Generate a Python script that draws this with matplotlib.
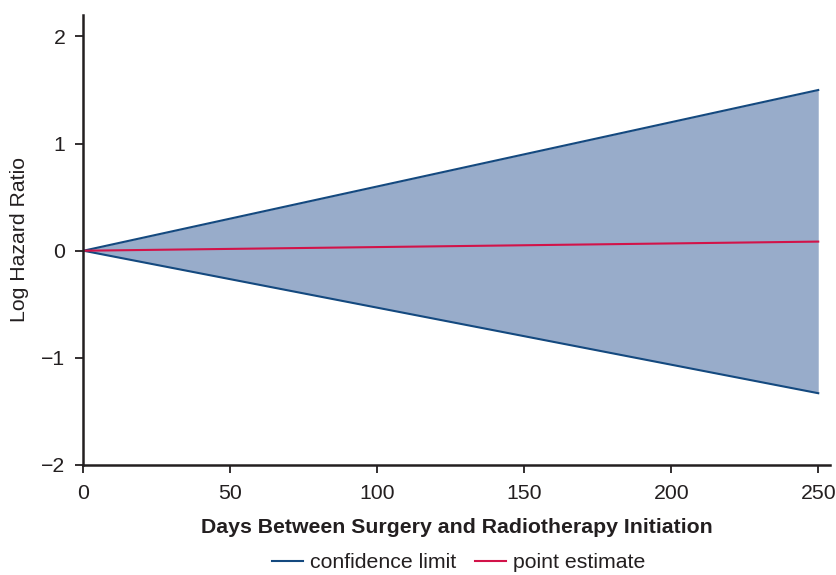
import matplotlib
matplotlib.use("Agg")
import matplotlib.pyplot as plt
from matplotlib.lines import Line2D

plt.rcParams['font.family'] = ['Liberation Sans', 'DejaVu Sans']

days = [0, 250]
upper = [0, 1.50]
lower = [0, -1.33]
estimate = [0, 0.085]

xticks = [0, 50, 100, 150, 200, 250]
yticks = [-2, -1, 0, 1, 2]

band_color = '#98acca'
line_color = '#14497f'
est_color = '#d21349'
dark = '#231f20'
fs = 15.3

fig = plt.figure(figsize=(8.37, 5.75), dpi=100)
ax = fig.add_axes([83.5/837, (575-465)/575, (830-83.5)/837, (465-15)/575])

ax.fill_between(days, lower, upper, color=band_color, linewidth=0)
ax.plot(days, upper, color=line_color, lw=1.5)
ax.plot(days, lower, color=line_color, lw=1.5)
ax.plot(days, estimate, color=est_color, lw=1.5)

ax.set_xlim(0, 254)
ax.set_ylim(-2, 2.2)
ax.set_xticks(xticks)
ax.set_yticks(yticks)
for s in ['top', 'right']:
    ax.spines[s].set_visible(False)
for s in ['left', 'bottom']:
    ax.spines[s].set_linewidth(1.8)
    ax.spines[s].set_color(dark)
ax.tick_params(direction='out', length=6, width=1.3, color=dark,
               labelsize=fs, labelcolor=dark)
ax.tick_params(axis='x', pad=7.5)
ax.tick_params(axis='y', pad=7)

ax.set_ylabel('Log Hazard Ratio', fontsize=fs, color=dark, labelpad=9)
ax.set_xlabel('Days Between Surgery and Radiotherapy Initiation', fontsize=fs,
              fontweight='bold', color=dark, labelpad=11)

handles = [Line2D([], [], color=line_color, lw=1.5),
           Line2D([], [], color=est_color, lw=1.5)]
fig.legend(handles, ['confidence limit', 'point estimate'], loc='center',
           bbox_to_anchor=(459/837, 1 - 563/575), ncol=2, frameon=False,
           fontsize=fs, handlelength=1.43, handletextpad=0.35, columnspacing=0.9,
           labelcolor=dark, borderpad=0)

fig.savefig('out.png', dpi=100)
